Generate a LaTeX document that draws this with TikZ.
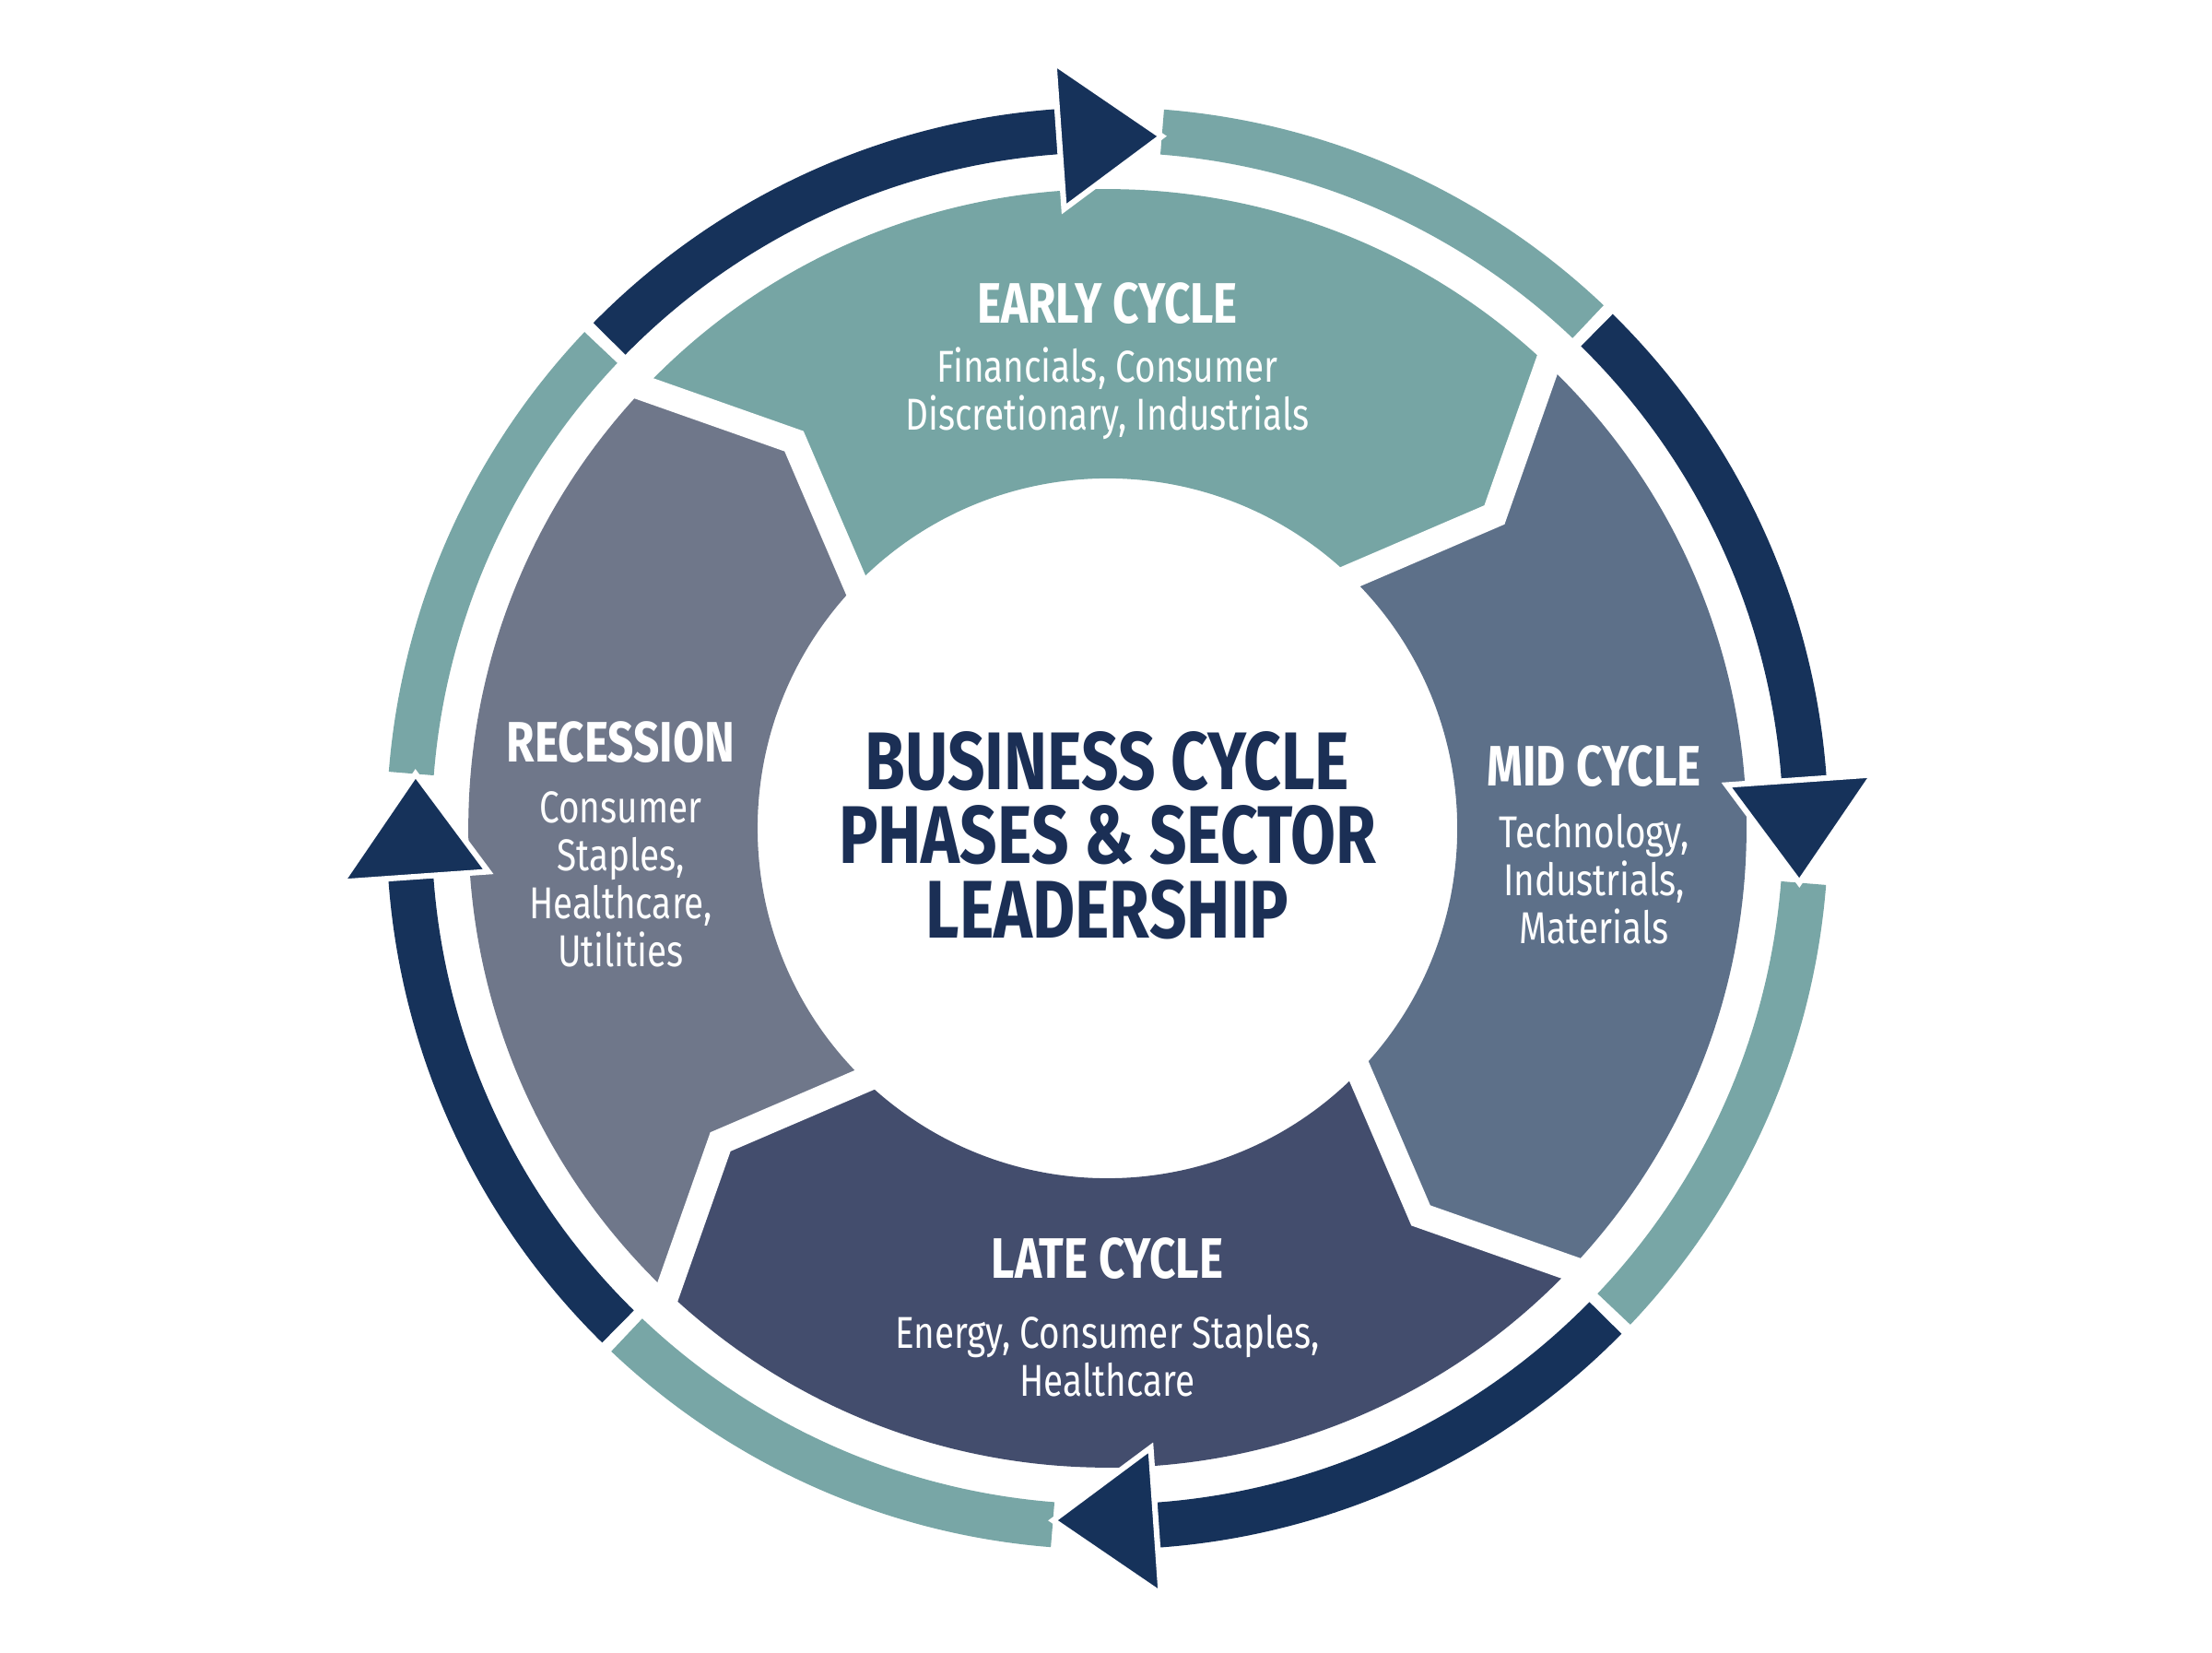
\documentclass[tikz,border=0pt]{standalone}
\usepackage{fontspec}
\setmainfont{Fira Sans}[FakeStretch=0.8]
\definecolor{navy}{HTML}{16325A}
\definecolor{teal}{HTML}{78A6A6}
\definecolor{early}{HTML}{76A5A4}
\definecolor{mid}{HTML}{5D7089}
\definecolor{late}{HTML}{434D6D}
\definecolor{rec}{HTML}{6F778A}
\definecolor{title}{HTML}{1B2F55}
\begin{document}
\begin{tikzpicture}[x=0.02cm,y=-0.02cm,
  head/.style={text=white,font=\fontsize{23}{27}\selectfont\bfseries,align=center},
  body/.style={text=white,font=\fontsize{18}{19.4}\selectfont,align=center},
  ttl/.style={text=title,font=\fontsize{33}{30}\selectfont\bfseries,align=center}]
\useasboundingbox (0,0) rectangle (1568,1171);
\fill[white] (0,0) rectangle (1568,1171);
\begin{scope}[shift={(785,587)}]
% sectors
\foreach \c/\a in {early/-137,mid/-47,late/43,rec/133}{
  \pgfmathsetmacro\b{\a+90}
  \pgfmathsetmacro\bt{\a+98}
  \pgfmathsetmacro\at{\a+8}
  \fill[\c] (\a:453) arc[start angle=\a,end angle=\b,radius=453] -- (\bt:353) -- (\b:248)
     arc[start angle=\b,end angle=\a,radius=248] -- (\at:353) -- cycle;
}
\foreach \a in {-137,-47,43,133}{
  \pgfmathsetmacro\at{\a+8}
  \draw[white,line width=0.36cm] (\a:462) -- (\at:353) -- (\a:238);
}
% outer ring
\foreach \a in {-135.5,-45.5,44.5,134.5}{
  \pgfmathsetmacro\ne{\a+42}
  \pgfmathsetmacro\bb{\a+41.5}
  \pgfmathsetmacro\tt{\a+50}
  \pgfmathsetmacro\te{\a+89}
  \draw[teal,line width=0.64cm] (\tt:495) arc[start angle=\tt,end angle=\te,radius=495];
  \draw[navy,line width=0.64cm] (\a:495) arc[start angle=\a,end angle=\ne,radius=495];
  \fill[navy,draw=white,line width=0.08cm,line join=miter] (\bb:440) -- (\tt:492) -- (\bb:544) -- cycle;
}
\end{scope}
\node[ttl] (t) at (785,592) {BUSINESS CYCLE\\PHASES \& SECTOR\\LEADERSHIP};
\node[head] (eh) at (785,215) {EARLY CYCLE};
\node[body] (eb) at (785,279) {Financials, Consumer\\Discretionary, Industrials};
\node[head] (mh) at (1130,543) {MID CYCLE};
\node[body] (mb) at (1130,623) {Technology,\\Industrials,\\Materials};
\node[head] (lh) at (785,892) {LATE CYCLE};
\node[body] (lb) at (785,961) {Energy, Consumer Staples,\\Healthcare};
\node[head] (rh) at (440,526) {RECESSION};
\node[body] (rb) at (440,623) {Consumer\\Staples,\\Healthcare,\\Utilities};
\end{tikzpicture}
\end{document}
